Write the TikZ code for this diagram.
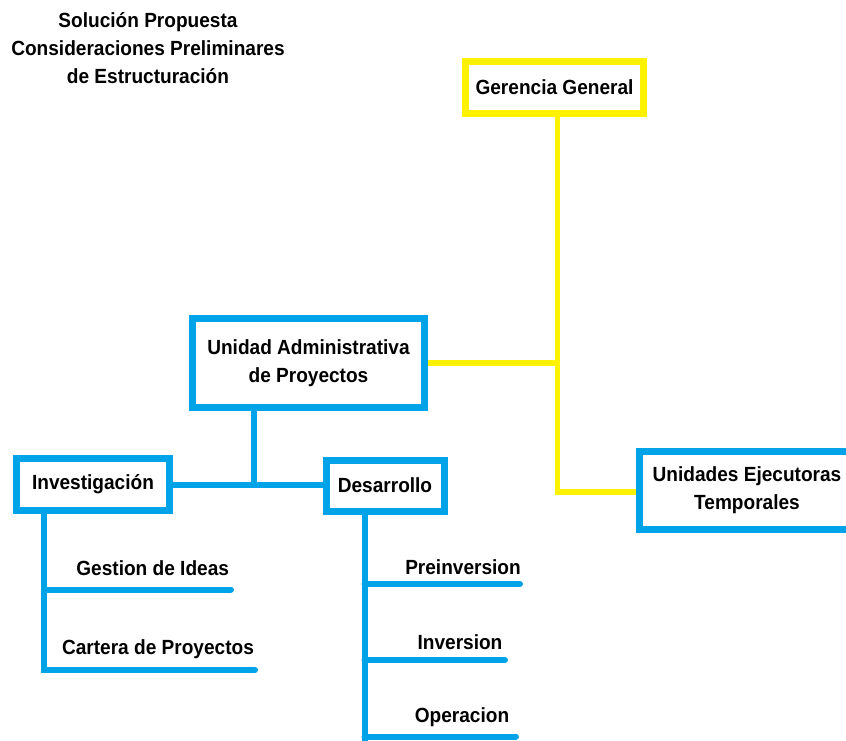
\documentclass[tikz,border=0pt]{standalone}
\usepackage{fontspec}
\setmainfont{Liberation Sans}[FakeStretch=0.93]
\definecolor{paintblue}{RGB}{0,162,232}
\definecolor{paintyellow}{RGB}{255,242,0}

\begin{document}
\begin{tikzpicture}[x=1pt, y=-1pt,
    every node/.style={font=\fontsize{20.5}{28}\selectfont\bfseries, align=center},
    bluebox/.style={draw=paintblue, line width=7pt, inner sep=0pt},
    yellowbox/.style={draw=paintyellow, line width=7pt, inner sep=0pt},
    blueline/.style={draw=paintblue, line width=6pt},
    yellowline/.style={draw=paintyellow, line width=5.5pt}]
\path[use as bounding box, clip] (0,0) rectangle (846,741);

% Title
\node (title) at (148,48.5) {Solución Propuesta\\Consideraciones Preliminares\\de Estructuración};

% Yellow box
\node[yellowbox, minimum width=178pt, minimum height=52pt] (gg) 
    at (554.5,87.5) {Gerencia General};

% Blue boxes
\node[bluebox, minimum width=232pt, minimum height=89pt] (uap) 
    at (308.5,363) {Unidad Administrativa\\de Proyectos};
\node[bluebox, minimum width=153pt, minimum height=52pt] (inv) 
    at (93,484.5) {Investigación};
\node[bluebox, minimum width=118pt, minimum height=51pt] (des) 
    at (385,485.5) {Desarrollo};
\node[bluebox, minimum width=215pt, minimum height=78pt] (uet) 
    at (747,490.5) {Unidades Ejecutoras\\Temporales};

% Yellow connectors
\coordinate (gg-bus) at (557.5,492);
\draw[yellowline] (gg.south -| gg-bus) -- (gg-bus) -- (gg-bus -| uet.west);
\draw[yellowline] (uap.east) -- (uap.east -| gg-bus);

% Blue connectors
\coordinate (uap-bus) at (254,484.5);
\draw[blueline] (uap.south -| uap-bus) -- (uap-bus);
\draw[blueline] (inv.east) -- (inv.east -| des.west);

% Investigacion items
\coordinate (inv-bus) at (44,673);
\draw[blueline] (inv.south -| inv-bus) -- (inv-bus);
\foreach \name/\txt/\tx/\ty/\lx/\ly in {gi/Gestion de Ideas/152.7/568/231/589.5,
                                        cp/Cartera de Proyectos/158/649/255/670}{
    \node (\name) at (\tx,\ty) {\txt};
    \coordinate (\name-end) at (\lx,\ly);
    \draw[blueline, line cap=round] (inv-bus |- \name-end) -- (\name-end);
}

% Desarrollo items
\coordinate (des-bus) at (364.5,745);
\draw[blueline] (des.south -| des-bus) -- (des-bus);
\foreach \name/\txt/\tx/\ty/\lx/\ly in {pre/Preinversion/463/567/520/584,
                                        ivs/Inversion/460/642/505/660,
                                        op/Operacion/462/717/516/736.5}{
    \node (\name) at (\tx,\ty) {\txt};
    \coordinate (\name-end) at (\lx,\ly);
    \draw[blueline, line cap=round] (des-bus |- \name-end) -- (\name-end);
}

\end{tikzpicture}
\end{document}
